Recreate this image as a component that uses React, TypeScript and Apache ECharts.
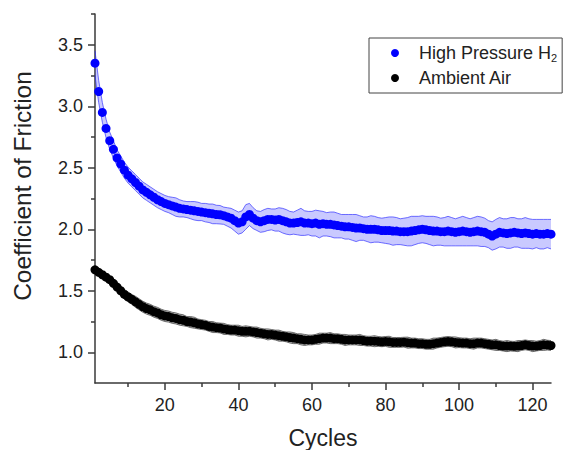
import React, { useEffect, useRef } from "react";
import * as echarts from "echarts";

const FONT = "'Liberation Sans', Arial, Helvetica, sans-serif";

// one measurement per cycle, cycles 1..125
const h2Mean = [
  3.35, 3.12, 2.95, 2.82, 2.72, 2.65, 2.58, 2.53, 2.48, 2.44,
  2.41, 2.38, 2.35, 2.32, 2.30, 2.28, 2.26, 2.24, 2.225, 2.21,
  2.20, 2.19, 2.18, 2.17, 2.165, 2.16, 2.155, 2.15, 2.145, 2.14,
  2.135, 2.13, 2.125, 2.12, 2.118, 2.11, 2.10, 2.09, 2.07, 2.05,
  2.06, 2.10, 2.12, 2.09, 2.07, 2.06, 2.07, 2.08, 2.08, 2.075,
  2.08, 2.07, 2.06, 2.05, 2.05, 2.055, 2.06, 2.05, 2.05, 2.045,
  2.05, 2.04, 2.045, 2.04, 2.04, 2.035, 2.03, 2.025, 2.02, 2.02,
  2.015, 2.01, 2.01, 2.005, 2.0, 2.0, 2.0, 1.995, 1.99, 1.99,
  1.99, 1.985, 1.985, 1.98, 1.98, 1.98, 1.985, 1.99, 1.995, 2.0,
  1.995, 1.99, 1.985, 1.985, 1.98, 1.98, 1.985, 1.98, 1.975, 1.98,
  1.985, 1.98, 1.975, 1.98, 1.985, 1.98, 1.975, 1.96, 1.945, 1.96,
  1.975, 1.97, 1.965, 1.97, 1.975, 1.97, 1.965, 1.97, 1.965, 1.96,
  1.965, 1.96, 1.96, 1.965, 1.96,
];
const h2Sd = [
  0.1, 0.09, 0.08, 0.075, 0.07, 0.07, 0.065, 0.065, 0.065, 0.065,
  0.065, 0.065, 0.065, 0.065, 0.065, 0.065, 0.065, 0.065, 0.065, 0.065,
  0.065, 0.07, 0.075, 0.07, 0.065, 0.065, 0.07, 0.075, 0.075, 0.07,
  0.075, 0.075, 0.08, 0.075, 0.075, 0.07, 0.075, 0.08, 0.085, 0.09,
  0.09, 0.1, 0.09, 0.085, 0.08, 0.085, 0.09, 0.09, 0.085, 0.09,
  0.095, 0.1, 0.1, 0.095, 0.09, 0.1, 0.11, 0.1, 0.095, 0.1,
  0.105, 0.11, 0.1, 0.095, 0.1, 0.105, 0.1, 0.095, 0.1, 0.1,
  0.105, 0.11, 0.1, 0.095, 0.1, 0.11, 0.105, 0.1, 0.1, 0.105,
  0.11, 0.115, 0.11, 0.105, 0.11, 0.115, 0.12, 0.115, 0.11, 0.11,
  0.11, 0.115, 0.12, 0.115, 0.11, 0.115, 0.12, 0.115, 0.11, 0.115,
  0.12, 0.115, 0.11, 0.115, 0.12, 0.12, 0.115, 0.11, 0.115, 0.12,
  0.12, 0.115, 0.12, 0.125, 0.12, 0.115, 0.12, 0.125, 0.12, 0.12,
  0.115, 0.12, 0.12, 0.115, 0.12,
];
const airMean = [
  1.67, 1.65, 1.63, 1.61, 1.59, 1.56, 1.53, 1.50, 1.47, 1.45,
  1.43, 1.41, 1.39, 1.37, 1.355, 1.345, 1.33, 1.32, 1.305, 1.295,
  1.29, 1.28, 1.275, 1.265, 1.26, 1.25, 1.245, 1.24, 1.23, 1.225,
  1.22, 1.21, 1.205, 1.2, 1.197, 1.19, 1.185, 1.18, 1.18, 1.175,
  1.17, 1.17, 1.17, 1.165, 1.16, 1.155, 1.15, 1.145, 1.145, 1.14,
  1.135, 1.13, 1.125, 1.12, 1.115, 1.11, 1.105, 1.10, 1.10, 1.10,
  1.105, 1.11, 1.115, 1.115, 1.115, 1.11, 1.11, 1.105, 1.10, 1.10,
  1.10, 1.10, 1.10, 1.095, 1.09, 1.09, 1.09, 1.088, 1.085, 1.088,
  1.085, 1.08, 1.08, 1.08, 1.082, 1.078, 1.075, 1.075, 1.07, 1.07,
  1.065, 1.065, 1.07, 1.075, 1.08, 1.085, 1.088, 1.085, 1.08, 1.078,
  1.075, 1.075, 1.07, 1.07, 1.075, 1.075, 1.07, 1.065, 1.06, 1.06,
  1.055, 1.05, 1.05, 1.05, 1.048, 1.05, 1.055, 1.06, 1.055, 1.05,
  1.05, 1.055, 1.06, 1.058, 1.055,
];
const airSd = [
  0.03, 0.03, 0.03, 0.03, 0.035, 0.035, 0.035, 0.04, 0.04, 0.04,
  0.04, 0.045, 0.045, 0.045, 0.045, 0.045, 0.045, 0.045, 0.045, 0.045,
  0.045, 0.045, 0.045, 0.045, 0.045, 0.04, 0.045, 0.045, 0.04, 0.04,
  0.04, 0.04, 0.045, 0.04, 0.04, 0.045, 0.04, 0.04, 0.04, 0.045,
  0.04, 0.045, 0.04, 0.04, 0.045, 0.04, 0.04, 0.045, 0.04, 0.04,
  0.045, 0.04, 0.04, 0.045, 0.045, 0.04, 0.045, 0.045, 0.04, 0.04,
  0.04, 0.045, 0.04, 0.04, 0.045, 0.04, 0.04, 0.04, 0.045, 0.04,
  0.04, 0.04, 0.045, 0.04, 0.04, 0.04, 0.045, 0.04, 0.04, 0.04,
  0.045, 0.04, 0.04, 0.04, 0.04, 0.045, 0.04, 0.04, 0.04, 0.04,
  0.04, 0.04, 0.045, 0.04, 0.04, 0.04, 0.04, 0.04, 0.045, 0.04,
  0.04, 0.04, 0.04, 0.045, 0.04, 0.04, 0.04, 0.04, 0.04, 0.045,
  0.04, 0.04, 0.045, 0.04, 0.04, 0.045, 0.04, 0.04, 0.04, 0.045,
  0.04, 0.04, 0.045, 0.04, 0.04,
];
const cycles = h2Mean.map((_, i) => i + 1);

const xMajorTicks = [20, 40, 60, 80, 100, 120];
const xMinorTicks = [10, 30, 50, 70, 90, 110];
const yMajorTicks = [1.0, 1.5, 2.0, 2.5, 3.0, 3.5];
const yMinorTicks = [1.25, 1.75, 2.25, 2.75, 3.25, 3.75];

const seriesNames = ["High Pressure H2", "Ambient Air"];

const AXIS_COLOR = "#3a3a3a";
const LABEL_COLOR = "#222";

function bandSeries(mean: number[], sd: number[], fill: string, stroke: string) {
  const upper = mean.map((m, i) => m + sd[i]);
  const lower = mean.map((m, i) => m - sd[i]);
  return {
    type: "custom",
    xAxisIndex: 0,
    yAxisIndex: 0,
    silent: true,
    z: 1,
    data: cycles.map((c, i) => [c, lower[i], upper[i]]),
    encode: { x: 0, y: [1, 2] },
    renderItem: (params: any, api: any) => {
      if (params.dataIndex !== 0) return null;
      const up = cycles.map((c, i) => api.coord([c, upper[i]]));
      const lo = cycles.map((c, i) => api.coord([c, lower[i]]));
      return {
        type: "group",
        children: [
          {
            type: "polygon",
            shape: { points: up.concat(lo.slice().reverse()) },
            style: { fill, stroke: "none" },
          },
          { type: "polyline", shape: { points: up }, style: { fill: "none", stroke, lineWidth: 1 } },
          { type: "polyline", shape: { points: lo }, style: { fill: "none", stroke, lineWidth: 1 } },
        ],
      };
    },
  };
}

export default function App() {
  const ref = useRef<HTMLDivElement>(null);
  useEffect(() => {
    if (!ref.current) return;
    const chart = echarts.init(ref.current, null, { renderer: "svg" });
    const gridPos = { left: 95, right: 23, top: 14, bottom: 67, containLabel: false, outerBoundsMode: "none" };
    chart.setOption({
      animation: false,
      backgroundColor: "#fff",
      grid: [gridPos, gridPos],
      xAxis: [
        {
          type: "value",
          gridIndex: 0,
          min: 1,
          max: 125,
          name: "Cycles",
          nameLocation: "middle",
          nameGap: 43,
          nameTextStyle: { fontFamily: FONT, fontSize: 23, lineHeight: 23, color: LABEL_COLOR },
          axisLine: { show: true, onZero: false, lineStyle: { color: AXIS_COLOR, width: 1.5 } },
          axisTick: { show: true, length: 7, customValues: xMajorTicks, lineStyle: { color: AXIS_COLOR, width: 1.5 } },
          axisLabel: { customValues: xMajorTicks, fontFamily: FONT, fontSize: 18, color: LABEL_COLOR, margin: 13 },
          splitLine: { show: false },
        },
        {
          type: "value",
          gridIndex: 1,
          min: 1,
          max: 125,
          axisLine: { show: false, onZero: false },
          axisTick: { show: true, length: 4, customValues: xMinorTicks, lineStyle: { color: AXIS_COLOR, width: 1.5 } },
          axisLabel: { show: false },
          splitLine: { show: false },
        },
      ],
      yAxis: [
        {
          type: "value",
          gridIndex: 0,
          min: 0.75,
          max: 3.75,
          axisLine: { show: true, onZero: false, lineStyle: { color: AXIS_COLOR, width: 1.5 } },
          axisTick: { show: true, length: 7, customValues: yMajorTicks, lineStyle: { color: AXIS_COLOR, width: 1.5 } },
          axisLabel: {
            customValues: yMajorTicks,
            formatter: (v: number) => v.toFixed(1),
            fontFamily: FONT,
            fontSize: 18,
            color: LABEL_COLOR,
            margin: 12,
          },
          splitLine: { show: false },
        },
        {
          type: "value",
          gridIndex: 1,
          min: 0.75,
          max: 3.75,
          axisLine: { show: false, onZero: false },
          axisTick: { show: true, length: 4, customValues: yMinorTicks, lineStyle: { color: AXIS_COLOR, width: 1.5 } },
          axisLabel: { show: false },
          splitLine: { show: false },
        },
      ],
      legend: {
        orient: "vertical",
        left: 369,
        top: 38,
        data: seriesNames,
        icon: "circle",
        itemWidth: 8,
        itemHeight: 8,
        itemGap: 5,
        padding: [5, 5, 5, 22],
        borderColor: "#444",
        borderWidth: 1,
        borderRadius: 0,
        formatter: (name: string) => (name === seriesNames[0] ? "High Pressure H{sub|2}" : name),
        textStyle: {
          fontFamily: FONT,
          fontSize: 18,
          color: LABEL_COLOR,
          lineHeight: 20,
          padding: [0, 0, 0, 15],
          rich: {
            sub: { fontFamily: FONT, fontSize: 11, color: LABEL_COLOR, lineHeight: 20, padding: [9, 0, 0, 0] },
          },
        },
      },
      series: [
        bandSeries(h2Mean, h2Sd, "rgba(60,60,255,0.28)", "rgba(40,40,255,0.65)"),
        bandSeries(airMean, airSd, "rgba(0,0,0,0.3)", "rgba(60,60,60,0.7)"),
        {
          name: seriesNames[0],
          type: "scatter",
          xAxisIndex: 0,
          yAxisIndex: 0,
          symbol: "circle",
          symbolSize: 9,
          z: 3,
          itemStyle: { color: "#0000ff", opacity: 1 },
          data: cycles.map((c, i) => [c, h2Mean[i]]),
        },
        {
          name: seriesNames[1],
          type: "scatter",
          xAxisIndex: 0,
          yAxisIndex: 0,
          symbol: "circle",
          symbolSize: 9,
          z: 3,
          itemStyle: { color: "#000000", opacity: 1 },
          data: cycles.map((c, i) => [c, airMean[i]]),
        },
      ],
      graphic: [
        {
          type: "text",
          x: 22,
          y: 186,
          rotation: Math.PI / 2,
          style: {
            text: "Coefficient of Friction",
            fontFamily: FONT,
            fontSize: 24.5,
            fill: LABEL_COLOR,
            align: "center",
            verticalAlign: "middle",
          },
        },
      ],
    });
    return () => chart.dispose();
  }, []);
  return <div ref={ref} style={{ width: 574, height: 450, position: "absolute", left: 0, top: 0 }} />;
}
